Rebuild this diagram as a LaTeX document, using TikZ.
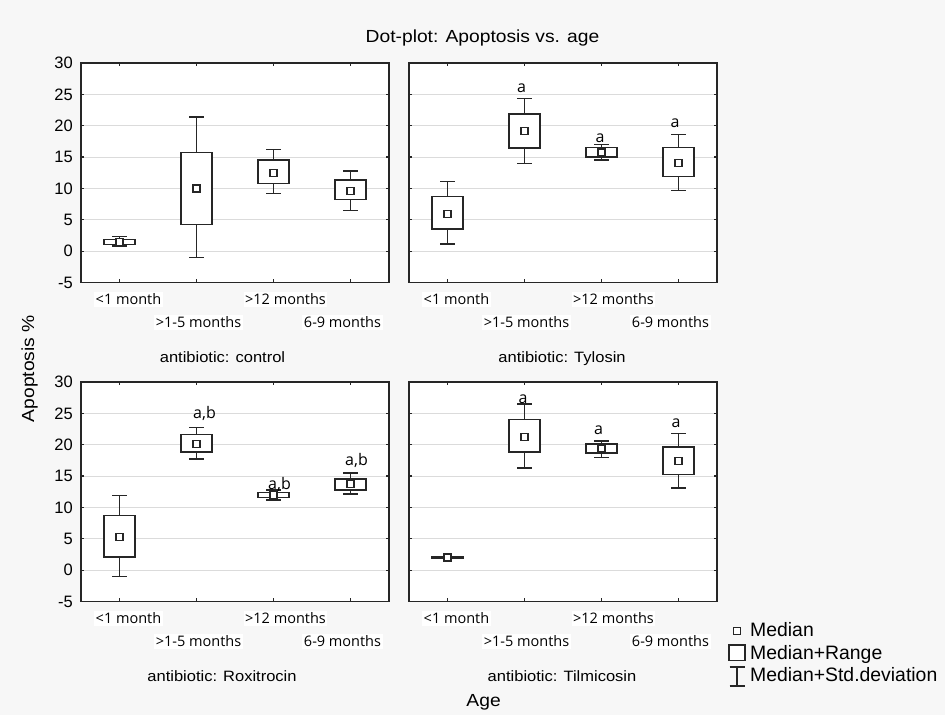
\documentclass[tikz,border=0pt]{standalone}
\usepackage{fontspec}
\setmainfont{Liberation Sans}
\newfontfamily\widesans{Liberation Sans}[FakeStretch=1.1]
\newfontfamily\labelsans{Open Sans}
\usetikzlibrary{positioning}

\tikzset{
  plottitle/.style={font=\widesans\fontsize{17.5}{20}\selectfont, anchor=base, inner sep=0pt},
  panelcaption/.style={font=\widesans\fontsize{15}{18}\selectfont, anchor=base, inner sep=0pt},
  axislabel/.style={font=\widesans\fontsize{17.5}{20}\selectfont, anchor=base, inner sep=0pt},
  legendtext/.style={font=\fontsize{19.4}{22}\selectfont, anchor=base west, inner sep=0pt},
  ynum/.style={font=\fontsize{16.5}{18}\selectfont, anchor=east, inner sep=0pt},
  agelabel/.style={font=\labelsans\fontsize{14.5}{16}\selectfont, fill=white, inner sep=1.5pt},
  sigmark/.style={font=\labelsans\fontsize{16}{18}\selectfont, inner sep=0pt},
  gridline/.style={draw=black!14, line width=1pt},
  framebox/.style={draw=black!85, line width=1.5pt},
  tick/.style={draw=black!85, line width=1.2pt},
  whisker/.style={draw=black!85, line width=1.3pt},
  rangebox/.style={draw=black!85, line width=1.4pt, fill=white},
  medianmark/.style={draw=black!85, line width=1.2pt, fill=white, minimum size=7pt, inner sep=0pt}
}

% frame, grid, ticks and age labels of one panel (#1 = name)
\newcommand{\agepanel}[1]{%
  \fill[white] (0,-5) rectangle (4,30);
  \foreach \v in {0,5,...,25} \draw[gridline] (0,\v) -- (4,\v);
  \foreach \v in {-5,0,...,30} {\draw[tick] (0,\v) -- ++(3pt,0); \draw[tick] (4,\v) -- ++(-3pt,0);}
  \foreach \c in {0.5,1.5,2.5,3.5} {\draw[tick] (\c,-5) -- ++(0,3pt); \draw[tick] (\c,30) -- ++(0,-3pt);}
  \draw[framebox] (0,-5) rectangle (4,30);
  \node[agelabel, xshift=9pt, yshift=-17pt] (#1-x1) at (0.5,-5) {<1 month};
  \node[agelabel, xshift=2pt, yshift=-40pt] (#1-x2) at (1.5,-5) {>1-5 months};
  \node[agelabel, xshift=12pt, yshift=-17pt] (#1-x3) at (2.5,-5) {>12 months};
  \node[agelabel, xshift=-8pt, yshift=-40pt] (#1-x4) at (3.5,-5) {6-9 months};
}
% y axis numbers, left panels only
\newcommand{\agenumbers}[1]{%
  \foreach \v in {-5,0,...,30} \node[ynum, xshift=-8pt] (#1-y\v) at (0,\v) {\v};
}
% one box: name, category, -sd, min, median, max, +sd
\newcommand{\agebox}[7]{%
  \draw[whisker] (#2-0.097,#3) -- (#2+0.097,#3) (#2,#3) -- (#2,#7) (#2-0.097,#7) -- (#2+0.097,#7);
  \draw[rangebox] (#2-0.2,#4) rectangle (#2+0.2,#6);
  \node[medianmark] (#1) at (#2,#5) {};
}

\begin{document}
\begin{tikzpicture}[x=1pt, y=-1pt]
  \useasboundingbox[fill=black!3] (0,0) rectangle (945,715);

  \node[plottitle] (title) at (482.5,42.7) {Dot-plot: Apoptosis vs. age};

  % antibiotic: control
  \begin{scope}[shift={(81,251.1)}, x=77pt, y=6.27pt]
    \agepanel{ctl}
    \agenumbers{ctl}
    \agebox{ctl-m1}{0.5}{0.8}{1.07}{1.5}{1.87}{2.35}
    \agebox{ctl-m2}{1.5}{-1.05}{4.27}{10}{15.73}{21.37}
    \agebox{ctl-m3}{2.5}{9.17}{10.82}{12.47}{14.55}{16.26}
    \agebox{ctl-m4}{3.5}{6.45}{8.2}{9.54}{11.35}{12.79}
  \end{scope}

  % antibiotic: Tylosin
  \begin{scope}[shift={(409,251.1)}, x=77pt, y=6.27pt]
    \agepanel{tyl}
    \agebox{tyl-m1}{0.5}{1.12}{3.52}{5.87}{8.7}{11.09}
    \agebox{tyl-m2}{1.5}{14.02}{16.47}{19.13}{21.85}{24.3}
    \agebox{tyl-m3}{2.5}{14.55}{15.02}{15.73}{16.5}{17}
    \agebox{tyl-m4}{3.5}{9.66}{11.9}{14.02}{16.53}{18.65}
    \node[sigmark, xshift=-3pt] (tyl-s2) at (1.5,25.96) {a};
    \node[sigmark, xshift=-1.5pt] (tyl-s3) at (2.5,17.96) {a};
    \node[sigmark, xshift=-3.5pt] (tyl-s4) at (3.5,20.36) {a};
  \end{scope}

  % antibiotic: Roxitrocin
  \begin{scope}[shift={(81,570.1)}, x=77pt, y=6.27pt]
    \agepanel{rox}
    \agenumbers{rox}
    \agebox{rox-m1}{0.5}{-1.02}{2.11}{5.23}{8.73}{11.91}
    \agebox{rox-m2}{1.5}{17.7}{18.86}{20.08}{21.62}{22.79}
    \agebox{rox-m3}{2.5}{11.18}{11.6}{11.97}{12.39}{12.77}
    \agebox{rox-m4}{3.5}{12.14}{12.77}{13.73}{14.52}{15.47}
    \node[sigmark, xshift=8pt] (rox-s2) at (1.5,24.91) {a,b};
    \node[sigmark, xshift=6pt] (rox-s3) at (2.5,13.62) {a,b};
    \node[sigmark, xshift=6pt] (rox-s4) at (3.5,17.44) {a,b};
  \end{scope}

  % antibiotic: Tilmicosin
  \begin{scope}[shift={(409,570.1)}, x=77pt, y=6.27pt]
    \agepanel{til}
    \agebox{til-m1}{0.5}{1.85}{1.92}{2}{2.08}{2.15}
    \agebox{til-m2}{1.5}{16.27}{18.86}{21.25}{24.06}{26.5}
    \agebox{til-m3}{2.5}{17.96}{18.65}{19.39}{20.14}{20.61}
    \agebox{til-m4}{3.5}{13.09}{15.26}{17.43}{19.66}{21.78}
    \node[sigmark, xshift=-1.5pt] (til-s2) at (1.5,27.25) {a};
    \node[sigmark, xshift=-3pt] (til-s3) at (2.5,22.37) {a};
    \node[sigmark, xshift=-2.5pt] (til-s4) at (3.5,23.43) {a};
  \end{scope}

  \node[panelcaption] (cap-ctl) at (222.5,362) {antibiotic: control};
  \node[panelcaption] (cap-tyl) at (562,362) {antibiotic: Tylosin};
  \node[panelcaption] (cap-rox) at (222,681.7) {antibiotic: Roxitrocin};
  \node[panelcaption] (cap-til) at (562,681.7) {antibiotic: Tilmicosin};

  \node[axislabel, rotate=90] (ylab) at (34.2,368.5) {Apoptosis \%};
  \node[axislabel] (xlab) at (483.6,706.7) {Age};

  % legend
  \node[medianmark, minimum size=6.5pt] (leg-med) at (737,631) {};
  \node[legendtext] (leg-med-t) at (750,636) {Median};
  \node[rangebox, minimum width=16pt, minimum height=15.5pt] (leg-rng) at (737,652.7) {};
  \node[legendtext] (leg-rng-t) at (750,659) {Median+Range};
  \coordinate (leg-sd-top) at (737,667);
  \coordinate (leg-sd-bot) at (737,686);
  \draw[whisker] (leg-sd-top) -- (leg-sd-bot)
    ([xshift=-7.5pt]leg-sd-top) -- ([xshift=7.5pt]leg-sd-top)
    ([xshift=-7.5pt]leg-sd-bot) -- ([xshift=7.5pt]leg-sd-bot);
  \node[legendtext] (leg-sd-t) at (750,681.5) {Median+Std.deviation};
\end{tikzpicture}
\end{document}
